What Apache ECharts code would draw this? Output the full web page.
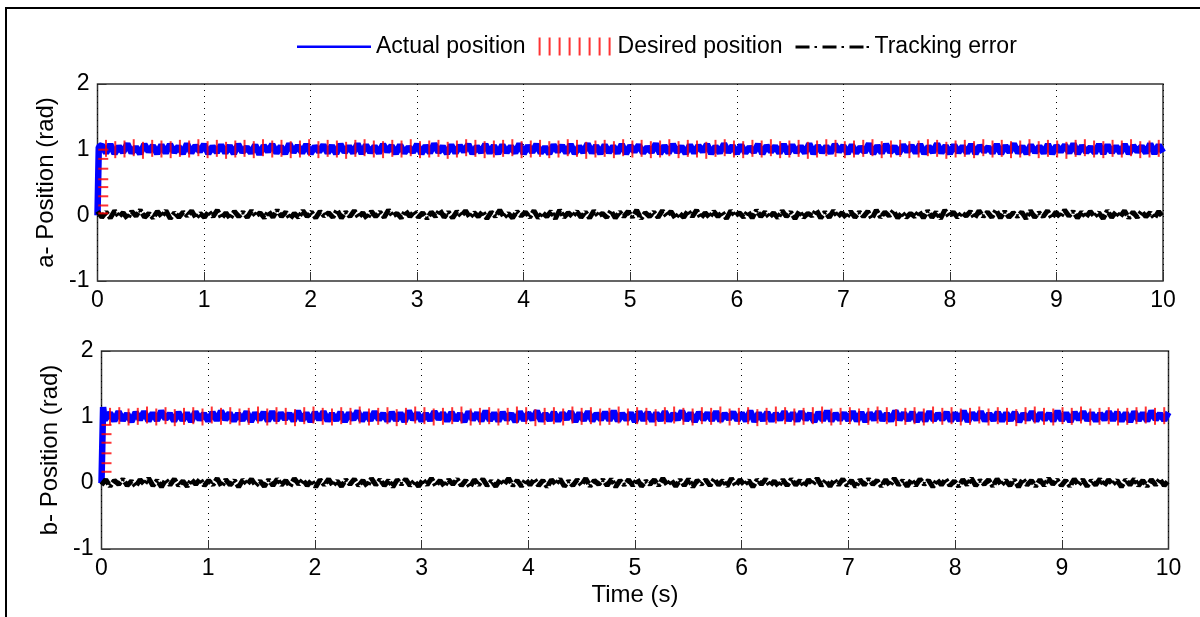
<!DOCTYPE html>
<html><head><meta charset="utf-8">
<script src="https://cdn.jsdelivr.net/npm/echarts@6/dist/echarts.min.js"></script>
<style>html,body{margin:0;padding:0;background:#fff}#c{width:1200px;height:617px}</style>
</head><body><div id="c"></div><script>
const xTickLabels = ['0','1','2','3','4','5','6','7','8','9','10'];
const yTickLabels = ['-1','0','1','2'];
const legendNames = ['Actual position','Desired position','Tracking error'];
const panelNames = ['a- Position (rad)','b- Position (rad)'];
const xName = 'Time (s)';

// start-up transient of the actual position [t, value]
const riseA = [[0,0],[0.012,1.04]];
const riseB = [[0,0],[0.015,1.15],[0.03,0.96]];
// desired-position marks along the initial rise (values)
const riseTicksA = [0.03,0.15,0.29,0.43,0.55,0.71,0.86,1.0];
const riseTicksB = [0.17,0.30,0.45,0.61,0.74,0.88];

// actual position, sampled every 0.04 s from 0.04 s to 10 s
const actualA = [
1.07,0.95,1.08,0.94,1.05,0.96,1.09,0.95,1.04,0.94,
1.08,0.97,1.06,0.94,1.07,0.95,1.08,0.96,1.05,0.94,
1.09,0.95,1.06,0.97,1.08,0.94,1.05,0.96,1.07,0.95,
1.06,0.94,1.08,0.96,1.04,0.95,1.07,0.93,1.06,0.97,
1.08,0.95,1.05,0.94,1.09,0.96,1.06,0.95,1.08,0.94,
1.05,0.97,1.07,0.95,1.06,0.94,1.08,0.96,1.05,0.95,
1.09,0.94,1.07,0.96,1.05,0.95,1.08,0.97,1.06,0.94,
1.07,0.95,1.04,0.96,1.08,0.94,1.06,0.95,1.09,0.96,
1.05,0.94,1.07,0.95,1.06,0.97,1.08,0.94,1.05,0.96,
1.08,0.95,1.06,0.94,1.07,0.96,1.05,0.95,1.09,0.94,
1.06,0.96,1.08,0.95,1.04,0.94,1.07,0.97,1.06,0.95,
1.08,0.94,1.05,0.96,1.09,0.95,1.06,0.94,1.07,0.96,
1.05,0.95,1.08,0.94,1.06,0.97,1.07,0.95,1.04,0.96,
1.09,0.94,1.06,0.95,1.08,0.96,1.05,0.94,1.07,0.95,
1.06,0.97,1.08,0.94,1.05,0.95,1.09,0.96,1.06,0.94,
1.07,0.95,1.04,0.96,1.08,0.94,1.06,0.97,1.05,0.95,
1.08,0.94,1.07,0.96,1.05,0.95,1.09,0.94,1.06,0.96,
1.05,0.95,1.08,0.97,1.06,0.94,1.07,0.95,1.04,0.96,
1.09,0.94,1.06,0.95,1.08,0.96,1.05,0.94,1.07,0.97,
1.06,0.95,1.08,0.94,1.05,0.96,1.09,0.95,1.06,0.94,
1.07,0.96,1.05,0.95,1.08,0.94,1.06,0.97,1.04,0.95,
1.08,0.94,1.06,0.96,1.09,0.95,1.05,0.94,1.07,0.96,
1.05,0.95,1.08,0.94,1.06,0.97,1.07,0.95,1.09,0.94,
1.06,0.96,1.04,0.95,1.08,0.94,1.07,0.96,1.05,0.95,
1.08,0.94,1.06,0.97,1.05,0.95,1.09,0.94,1.07,0.96];
const actualB = [
0.96,1.06,0.94,1.08,0.95,1.05,0.93,1.07,0.96,1.08,
0.94,1.06,0.95,1.09,0.97,1.05,0.94,1.07,0.95,1.06,
0.93,1.08,0.96,1.05,0.94,1.07,0.95,1.09,0.96,1.06,
0.94,1.05,0.95,1.08,0.93,1.06,0.96,1.07,0.94,1.08,
0.95,1.06,0.97,1.05,0.94,1.09,0.95,1.06,0.93,1.07,
0.96,1.08,0.94,1.05,0.95,1.07,0.93,1.06,0.96,1.09,
0.94,1.06,0.95,1.08,0.96,1.05,0.94,1.07,0.95,1.06,
0.93,1.09,0.96,1.06,0.94,1.05,0.95,1.08,0.97,1.06,
0.94,1.07,0.95,1.05,0.93,1.08,0.96,1.06,0.94,1.09,
0.95,1.06,0.94,1.07,0.96,1.05,0.93,1.08,0.95,1.06,
0.96,1.09,0.94,1.05,0.95,1.07,0.94,1.06,0.97,1.08,
0.93,1.06,0.95,1.08,0.94,1.05,0.96,1.07,0.95,1.09,
0.94,1.05,0.96,1.06,0.93,1.08,0.95,1.07,0.94,1.06,
0.95,1.08,0.94,1.05,0.96,1.09,0.95,1.06,0.93,1.07,
0.96,1.06,0.95,1.08,0.94,1.05,0.97,1.07,0.95,1.06,
0.94,1.09,0.93,1.06,0.95,1.07,0.94,1.05,0.96,1.08,
0.95,1.06,0.94,1.08,0.96,1.05,0.93,1.07,0.95,1.09,
0.94,1.05,0.96,1.06,0.95,1.08,0.94,1.07,0.93,1.06,
0.96,1.08,0.95,1.05,0.94,1.09,0.96,1.06,0.95,1.07,
0.93,1.06,0.94,1.08,0.95,1.05,0.96,1.07,0.94,1.06,
0.95,1.09,0.93,1.06,0.96,1.08,0.94,1.05,0.95,1.07,
0.94,1.06,0.95,1.07,0.93,1.05,0.96,1.08,0.94,1.06,
0.96,1.05,0.94,1.09,0.95,1.06,0.93,1.07,0.96,1.08,
0.95,1.06,0.94,1.05,0.96,1.08,0.95,1.07,0.94,1.06,
0.93,1.08,0.95,1.06,0.94,1.09,0.96,1.05,0.95,1.07];

// tracking error, sampled evenly over 0..10 s
const errorA = [
0.06,-0.03,0.05,-0.04,0.07,-0.02,0.04,-0.05,0.06,-0.01,
0.08,-0.03,0.03,-0.04,0.06,-0.02,0.07,-0.05,0.04,-0.03,
0.05,-0.01,0.07,-0.04,0.03,-0.03,0.06,-0.02,0.08,-0.04,
0.04,-0.05,0.06,-0.02,0.05,-0.03,0.07,-0.01,0.04,-0.04,
0.06,-0.03,0.08,-0.02,0.05,-0.05,0.03,-0.03,0.07,-0.02,
0.05,-0.04,0.06,-0.01,0.04,-0.03,0.08,-0.04,0.05,-0.02,
0.07,-0.03,0.04,-0.05,0.06,-0.02,0.05,-0.03,0.08,-0.01,
0.03,-0.04,0.07,-0.02,0.06,-0.03,0.04,-0.05,0.05,-0.02,
0.08,-0.03,0.05,-0.04,0.06,-0.01,0.07,-0.03,0.04,-0.02,
0.06,-0.05,0.05,-0.02,0.08,-0.03,0.03,-0.04,0.06,-0.01,
0.05,-0.03,0.07,-0.04,0.04,-0.02,0.06,-0.05,0.08,-0.03,
0.04,-0.02,0.06,-0.03,0.05,-0.04,0.07,-0.01,0.03,-0.03,
0.07,-0.04,0.05,-0.02,0.06,-0.03,0.08,-0.05,0.04,-0.02,
0.05,-0.03,0.07,-0.01,0.06,-0.04,0.03,-0.03,0.07,-0.02,
0.08,-0.04,0.04,-0.03,0.06,-0.02,0.05,-0.05,0.07,-0.01,
0.04,-0.03,0.06,-0.04,0.08,-0.02,0.05,-0.03,0.04,-0.04,
0.07,-0.02,0.05,-0.05,0.06,-0.03,0.03,-0.01,0.08,-0.04,
0.05,-0.03,0.07,-0.02,0.04,-0.04,0.06,-0.03,0.05,-0.02,
0.06,-0.05,0.08,-0.03,0.05,-0.01,0.07,-0.04,0.04,-0.03,
0.03,-0.02,0.06,-0.04,0.07,-0.03,0.05,-0.05,0.08,-0.02,
0.05,-0.03,0.04,-0.01,0.06,-0.04,0.07,-0.02,0.05,-0.03,
0.08,-0.04,0.06,-0.03,0.04,-0.02,0.05,-0.05,0.07,-0.03,
0.04,-0.02,0.07,-0.04,0.05,-0.03,0.08,-0.01,0.06,-0.04,
0.05,-0.03,0.06,-0.02,0.04,-0.05,0.07,-0.03,0.05,-0.02,
0.07,-0.04,0.05,-0.03,0.06,-0.02,0.04,-0.04,0.06,-0.03];
const errorB = [
-0.03,0.05,-0.05,0.04,-0.02,0.06,-0.04,0.03,-0.05,0.05,
-0.02,0.07,-0.04,0.04,-0.06,0.05,-0.03,0.06,-0.04,0.03,
-0.05,0.05,-0.02,0.06,-0.04,0.04,-0.03,0.07,-0.05,0.05,
-0.03,0.04,-0.06,0.05,-0.02,0.06,-0.04,0.03,-0.05,0.05,
-0.04,0.06,-0.03,0.04,-0.05,0.07,-0.02,0.05,-0.04,0.04,
-0.06,0.05,-0.03,0.06,-0.04,0.03,-0.05,0.05,-0.02,0.06,
-0.04,0.04,-0.05,0.07,-0.03,0.05,-0.04,0.04,-0.06,0.05,
-0.02,0.06,-0.04,0.03,-0.05,0.05,-0.03,0.07,-0.04,0.04,
-0.05,0.05,-0.02,0.06,-0.04,0.04,-0.06,0.05,-0.03,0.06,
-0.04,0.03,-0.05,0.05,-0.02,0.07,-0.04,0.04,-0.05,0.05,
-0.03,0.06,-0.04,0.04,-0.06,0.05,-0.02,0.06,-0.05,0.03,
-0.04,0.05,-0.03,0.07,-0.05,0.04,-0.02,0.05,-0.04,0.06,
-0.06,0.04,-0.03,0.05,-0.04,0.06,-0.05,0.03,-0.02,0.05,
-0.04,0.07,-0.03,0.04,-0.05,0.05,-0.04,0.06,-0.06,0.04,
-0.02,0.05,-0.04,0.06,-0.03,0.04,-0.05,0.07,-0.04,0.05,
-0.03,0.04,-0.06,0.05,-0.02,0.06,-0.04,0.03,-0.05,0.05,
-0.04,0.06,-0.03,0.04,-0.05,0.05,-0.02,0.07,-0.04,0.04,
-0.05,0.05,-0.03,0.06,-0.04,0.04,-0.06,0.05,-0.03,0.06,
-0.02,0.04,-0.05,0.05,-0.04,0.07,-0.03,0.04,-0.05,0.05,
-0.04,0.06,-0.02,0.04,-0.06,0.05,-0.03,0.06,-0.04,0.03,
-0.05,0.05,-0.03,0.07,-0.04,0.04,-0.02,0.05,-0.05,0.06,
-0.03,0.04,-0.04,0.05,-0.06,0.06,-0.03,0.04,-0.05,0.05,
-0.04,0.07,-0.02,0.05,-0.04,0.04,-0.05,0.06,-0.03,0.05,
-0.05,0.04,-0.03,0.06,-0.04,0.05,-0.02,0.04,-0.06,0.05,
-0.03,0.06,-0.04,0.04,-0.05,0.05,-0.03,0.06,-0.04,0.04];

// desired position marks (values), evenly spaced in time
const desiredA = [
1.02,1.00,1.01,1.03,0.99,1.02,1.01,1.00,1.02,1.01,
1.03,1.00,1.02,0.99,1.01,1.02,1.00,1.03,1.01,1.02,
1.00,1.01,1.03,1.00,1.02,1.01,0.99,1.02,1.03,1.01,
1.00,1.02,1.01,1.03,1.00,1.01,1.02,0.99,1.01,1.03,
1.02,1.00,1.01,1.02,1.03,1.00,1.01,1.02,1.00,1.01,
1.03,1.02,0.99,1.01,1.02,1.00,1.03,1.01,1.02,1.00,
1.01,1.03,1.00,1.02,1.01,0.99,1.02,1.03,1.01,1.00,
1.02,1.01,1.03,1.00,1.01,1.02,0.99,1.01,1.03,1.02,
1.00,1.01,1.02,1.03,1.00,1.01,1.02,1.00,1.01,1.03,
1.02,0.99,1.01,1.02,1.00,1.03,1.01,1.02,1.00,1.01,
1.03,1.00,1.02,1.01,0.99,1.02,1.03,1.01,1.00,1.02,
1.01,1.03,1.00,1.01,1.02];
const desiredB = [
1.01,1.02,1.00,1.01,1.03,1.00,1.02,0.99,1.01,1.02,
1.00,1.03,1.01,1.02,1.00,1.01,1.03,1.00,1.02,1.01,
0.99,1.02,1.03,1.01,1.00,1.02,1.01,1.03,1.00,1.01,
1.02,0.99,1.01,1.03,1.02,1.00,1.01,1.02,1.03,1.00,
1.01,1.02,1.00,1.01,1.03,1.02,0.99,1.01,1.02,1.00,
1.03,1.01,1.02,1.00,1.01,1.03,1.00,1.02,1.01,0.99,
1.02,1.03,1.01,1.00,1.02,1.01,1.03,1.00,1.01,1.02,
0.99,1.01,1.03,1.02,1.00,1.01,1.02,1.03,1.00,1.01,
1.02,1.00,1.01,1.03,1.02,0.99,1.01,1.02,1.00,1.03,
1.01,1.02,1.00,1.01,1.03,1.00,1.02,1.01,0.99,1.02,
1.03,1.01,1.00,1.02,1.01,1.03,1.00,1.01,1.02,1.00,
1.01,1.02,1.03,1.01,1.02];

const FONT = 'Liberation Sans, Arial, sans-serif';
const BLUE = '#0000ff', RED = '#ff0000', BLACK = '#000000';

function actualData(rise, vals){
  return rise.concat(vals.map((v,i)=>[0.04*(i+1), v]));
}
function errorData(vals){
  const n = vals.length;
  return vals.map((v,i)=>[i*10/(n-1), v]);
}
function desiredData(riseX, riseVals, vals){
  const n = vals.length;
  const out = riseVals.map(v=>({value:[riseX, v], symbolSize:[10,2]}));
  vals.forEach((v,i)=>out.push({value:[0.08 + i*9.88/(n-1), v]}));
  return out;
}

const chart = echarts.init(document.getElementById('c'), null, {renderer:'canvas'});

const grids = [
  {left:97.5, top:84, right:37, height:197},
  {left:101.5, top:351, right:31.5, height:198}
];

function xAx(i){
  return {
    gridIndex:i, type:'value', min:0, max:10, interval:1,
    name: i===1 ? xName : '', nameLocation:'middle', nameGap:34,
    nameTextStyle:{fontSize:24, color:'#000', fontFamily:FONT},
    axisLine:{show:false, onZero:false},
    axisTick:{show:true, inside:true, length:9, lineStyle:{color:'#333', width:1}},
    axisLabel:{fontSize:23, color:'#000', fontFamily:FONT, margin:8,
      formatter:(v)=>xTickLabels[Math.round(v)]},
    splitLine:{show:true, lineStyle:{color:'#000', type:[1,5], width:1}}
  };
}
function yAx(i){
  return {
    gridIndex:i, type:'value', min:-1, max:2, interval:1,
    name: panelNames[i], nameLocation:'middle', nameGap:38, nameRotate:90,
    nameTextStyle:{fontSize:24, color:'#000', fontFamily:FONT},
    axisLine:{show:false, onZero:false},
    axisTick:{show:true, inside:true, length:9, lineStyle:{color:'#333', width:1}},
    axisLabel:{fontSize:23, color:'#000', fontFamily:FONT, margin:8,
      formatter:(v)=>yTickLabels[Math.round(v)+1]},
    splitLine:{show:false}
  };
}

function panelSeries(i, rise, act, riseX, riseVals, des, err){
  return [
    {name:legendNames[0], type:'line', xAxisIndex:i, yAxisIndex:i,
     data:actualData(rise, act), symbol:'none', showSymbol:false,
     lineStyle:{color:BLUE, width:6.5, join:'bevel'}, itemStyle:{color:BLUE}, z:2},
    {name:legendNames[1], type:'scatter', xAxisIndex:i, yAxisIndex:i,
     data:desiredData(riseX, riseVals, des), symbol:'rect', symbolSize:[2,17],
     itemStyle:{color:RED}, z:5},
    {name:legendNames[2], type:'line', xAxisIndex:i, yAxisIndex:i,
     data:errorData(err), symbol:'none', showSymbol:false,
     lineStyle:{color:BLACK, width:5, type:[12,2,3,2]}, itemStyle:{color:BLACK}, z:4}
  ];
}

chart.setOption({
  animation:false,
  backgroundColor:'#fff',
  textStyle:{fontFamily:FONT},
  legend:{
    left:292, top:30, itemWidth:74, itemHeight:18, itemGap:13,
    textStyle:{fontSize:23, color:'#000', fontFamily:FONT},
    itemStyle:{borderWidth:0},
    data:[
      {name:legendNames[0], icon:'path://M0,0M0,8h74v2.6h-74zM74,18'},
      {name:legendNames[1], icon:'path://M0,0h2v18h-2zM10,0h2v18h-2zM20,0h2v18h-2zM30,0h2v18h-2zM40,0h2v18h-2zM50,0h2v18h-2zM60,0h2v18h-2zM70,0h2v18h-2zM74,18'},
      {name:legendNames[2], icon:'path://M0,0M0,8h14v3h-14zM19,8.5h2.5v2h-2.5zM27,8h14v3h-14zM46,8.5h2.5v2h-2.5zM54,8h14v3h-14zM71,8.5h2.5v2h-2.5zM74,18'}
    ]
  },
  grid:grids.map(g=>Object.assign({show:true, borderColor:'#333', borderWidth:1.5, backgroundColor:'transparent'}, g)),
  xAxis:[xAx(0), xAx(1)],
  yAxis:[yAx(0), yAx(1)],
  series:[].concat(
    panelSeries(0, riseA, actualA, 0.054, riseTicksA, desiredA, errorA),
    panelSeries(1, riseB, actualB, 0.047, riseTicksB, desiredB, errorB)
  ),
  graphic:[{type:'rect', silent:true, z:100,
    shape:{x:6, y:8, width:1400, height:800},
    style:{fill:null, stroke:'#000', lineWidth:2}}]
});
</script></body></html>
